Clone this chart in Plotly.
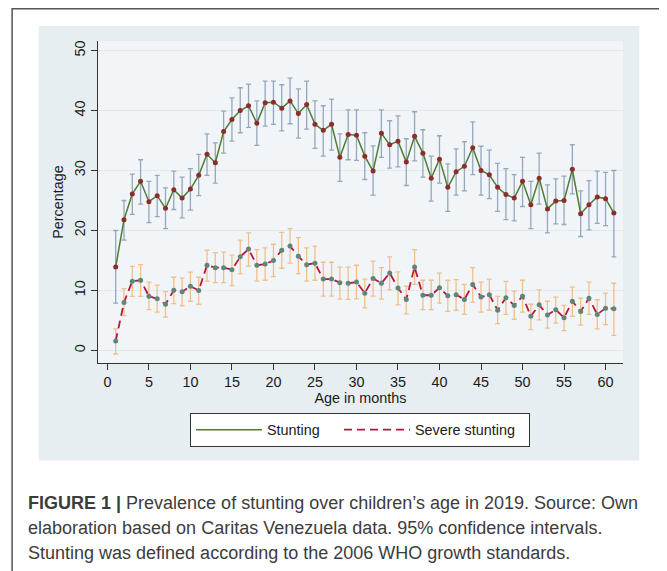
import plotly.graph_objects as go

ages = list(range(1, 62))

stunting = [13.9, 21.8, 26.1, 28.2, 24.8, 25.8, 23.7, 26.8, 25.4, 26.9,
            29.2, 32.7, 31.3, 36.5, 38.5, 40.0, 40.8, 37.9, 41.3, 41.4,
            40.4, 41.6, 39.5, 41.0, 37.7, 36.7, 37.7, 32.2, 36.0, 35.9,
            32.4, 29.9, 36.2, 34.3, 34.9, 31.4, 35.7, 32.9, 28.7, 31.9,
            27.2, 29.8, 30.7, 33.8, 30.0, 29.3, 27.2, 26.0, 25.4, 28.2,
            24.3, 28.7, 23.6, 24.9, 25.0, 30.2, 22.8, 24.3, 25.6, 25.3, 22.9]
stunting_lo = [7.9, 18.4, 22.7, 24.4, 21.3, 22.3, 20.3, 23.5, 22.1, 23.4,
               25.8, 29.2, 27.9, 32.9, 34.9, 36.3, 37.2, 34.2, 37.4, 37.7,
               36.6, 37.8, 35.4, 36.9, 33.7, 32.4, 33.4, 28.2, 31.8, 31.7,
               28.5, 25.9, 32.2, 30.4, 30.6, 27.5, 31.6, 28.9, 24.9, 27.9,
               23.2, 25.9, 26.6, 29.3, 25.9, 25.3, 23.2, 21.8, 21.6, 24.0,
               20.3, 24.4, 19.6, 21.1, 21.0, 26.1, 19.0, 20.1, 21.2, 20.8, 15.6]
stunting_hi = [20.0, 25.0, 29.4, 31.8, 28.2, 29.2, 27.1, 29.9, 28.9, 30.3,
               32.7, 36.1, 34.6, 39.9, 42.1, 43.8, 44.4, 41.6, 44.9, 44.9,
               44.3, 45.4, 43.6, 44.9, 41.6, 40.8, 41.9, 36.1, 40.1, 40.1,
               36.3, 34.1, 40.1, 38.3, 39.1, 35.3, 39.8, 36.8, 32.4, 35.8,
               31.1, 33.6, 34.8, 38.1, 34.05, 33.4, 31.2, 30.3, 29.3, 32.2,
               28.2, 32.9, 27.6, 28.6, 29.05, 34.3, 26.6, 28.3, 29.9, 29.7, 30.0]

severe = [1.55, 8.0, 11.55, 11.7, 9.05, 8.6, 7.7, 10.05, 9.8, 10.7,
          10.0, 14.2, 13.8, 13.8, 13.45, 15.6, 16.9, 14.2, 14.4, 15.0,
          16.7, 17.4, 15.7, 14.3, 14.55, 11.9, 11.9, 11.3, 11.2, 11.4,
          9.55, 12.0, 11.2, 12.9, 10.4, 8.5, 13.9, 9.2, 9.2, 10.45,
          9.1, 9.3, 8.5, 11.0, 8.9, 9.3, 6.7, 8.8, 7.5, 9.05,
          5.7, 7.6, 5.9, 6.8, 5.45, 8.2, 6.5, 8.7, 6.0, 7.05, 6.95]
severe_lo = [-0.6, 5.8, 9.0, 9.0, 6.8, 6.4, 5.55, 7.8, 7.45, 8.2,
             7.7, 11.55, 11.3, 11.3, 10.8, 12.8, 14.05, 11.55, 11.7, 12.3,
             13.7, 14.55, 12.8, 11.55, 11.7, 9.05, 9.05, 8.55, 8.5, 8.6,
             7.1, 9.05, 8.55, 10.1, 7.6, 6.1, 11.0, 6.8, 6.8, 7.9,
             6.5, 6.7, 6.0, 8.05, 6.4, 6.7, 4.45, 6.0, 5.2, 6.4,
             3.45, 5.1, 3.7, 4.55, 3.3, 5.7, 4.2, 6.0, 3.6, 4.3, 2.5]
severe_hi = [3.6, 10.3, 14.0, 14.3, 11.4, 10.9, 9.8, 12.2, 12.1, 13.05,
             12.2, 16.7, 16.3, 16.4, 15.9, 18.4, 19.6, 16.8, 17.1, 17.7,
             19.7, 20.3, 18.8, 17.1, 17.4, 14.7, 14.7, 13.9, 13.9, 14.2,
             11.9, 14.9, 13.8, 15.6, 13.1, 10.7, 16.8, 11.7, 11.7, 12.9,
             11.7, 11.8, 11.0, 13.8, 11.4, 11.9, 9.0, 11.5, 9.9, 11.7,
             7.7, 10.1, 8.2, 8.9, 7.5, 10.55, 8.7, 11.4, 8.45, 9.55, 11.2]

x_ticks = list(range(0, 61, 5))
y_ticks = list(range(0, 51, 10))

FONT = "Liberation Sans, Arial, sans-serif"
TXT = "#1a1a1a"

def up(v, hi):
    return [h - a for a, h in zip(v, hi)]

def down(v, lo):
    return [a - l for a, l in zip(v, lo)]

fig = go.Figure()

# confidence interval caps
fig.add_trace(go.Scatter(
    x=ages, y=stunting, mode="markers", showlegend=False, hoverinfo="skip",
    marker=dict(size=1, color="rgba(0,0,0,0)"),
    error_y=dict(type="data", symmetric=False, array=up(stunting, stunting_hi),
                 arrayminus=down(stunting, stunting_lo),
                 color="#93A8BE", thickness=1.3, width=2.5)))
fig.add_trace(go.Scatter(
    x=ages, y=severe, mode="markers", showlegend=False, hoverinfo="skip",
    marker=dict(size=1, color="rgba(0,0,0,0)"),
    error_y=dict(type="data", symmetric=False, array=up(severe, severe_hi),
                 arrayminus=down(severe, severe_lo),
                 color="#F0C08C", thickness=1.3, width=2.5)))

# lines
fig.add_trace(go.Scatter(
    x=ages, y=stunting, mode="lines", name="Stunting",
    line=dict(color="#4F7B33", width=1.5), legendwidth=67))
fig.add_trace(go.Scatter(
    x=ages, y=severe, mode="lines", name="Severe stunting",
    line=dict(color="#B8173C", width=1.8, dash="8px,5px"), legendwidth=109))

# markers
fig.add_trace(go.Scatter(
    x=ages, y=stunting, mode="markers", showlegend=False,
    marker=dict(size=5, color="#8E2B2B")))
fig.add_trace(go.Scatter(
    x=ages, y=severe, mode="markers", showlegend=False,
    marker=dict(size=5, color="#5E867C")))

# page body has an 8px margin: work in reference pixels and shift
OFF = 8
L, R, T, B = 98.3 - OFF, 622.7 - OFF, 41.0 - OFF, 362.7 - OFF
W, H = 667 - OFF, 571 - OFF
pw, ph = R - L, B - T

def px(xp):
    return (xp - OFF - L) / pw

def py(yp):
    return (B - (yp - OFF)) / ph

shapes = [
    # outer frame
    dict(type="rect", xref="paper", yref="paper", x0=px(12.5), x1=px(665.5),
         y0=py(600), y1=py(8.7), line=dict(color="#555555", width=1.5),
         fillcolor="white", layer="below"),
    # graph region
    dict(type="rect", xref="paper", yref="paper", x0=px(39), x1=px(639),
         y0=py(460), y1=py(26), line=dict(width=0), fillcolor="#E7EEF1",
         layer="below"),
    # plot region
    dict(type="rect", xref="paper", yref="paper", x0=0, x1=1, y0=0, y1=1,
         line=dict(width=0), fillcolor="#F1F5F7", layer="below"),
]

cap_font = dict(family="Liberation Sans, Arial, sans-serif", size=18, color="#3c3c3c")
annotations = [
    dict(text="<b>FIGURE 1 |</b> Prevalence of stunting over children’s age in 2019. Source: Own",
         xref="paper", yref="paper", x=px(26), y=py(503), xanchor="left", yanchor="middle",
         showarrow=False, font=cap_font),
    dict(text="elaboration based on Caritas Venezuela data. 95% confidence intervals.",
         xref="paper", yref="paper", x=px(26), y=py(528), xanchor="left", yanchor="middle",
         showarrow=False, font=cap_font),
    dict(text="Stunting was defined according to the 2006 WHO growth standards.",
         xref="paper", yref="paper", x=px(26), y=py(553), xanchor="left", yanchor="middle",
         showarrow=False, font=cap_font),
]

fig.update_layout(
    width=W, height=H,
    margin=dict(l=L, r=W - R, t=T, b=H - B, pad=0),
    paper_bgcolor="white", plot_bgcolor="#F1F5F7",
    font=dict(family=FONT, size=14.4, color=TXT),
    shapes=shapes, annotations=annotations,
    showlegend=True,
    legend=dict(orientation="h", x=px(360), xanchor="center", y=py(412.5), yanchor="top",
                bgcolor="white", bordercolor="#333333", borderwidth=1,
                itemwidth=66, font=dict(family=FONT, size=14.4, color=TXT),
                tracegroupgap=0),
    xaxis=dict(range=[-1.13, 62.1], tickvals=x_ticks, ticks="outside", ticklen=6,
               tickcolor="#333333", showline=True, linecolor="#333333", linewidth=1,
               showgrid=False, zeroline=False,
               title=dict(text="Age in months", font=dict(size=14.4), standoff=1),
               tickfont=dict(size=14.4)),
    yaxis=dict(range=[-2.1, 51.6], tickvals=y_ticks, ticks="outside", ticklen=6,
               tickcolor="#333333", showline=True, linecolor="#333333", linewidth=1,
               showgrid=True, gridcolor="#E2E9EE", gridwidth=1, zeroline=False,
               tickangle=-90,
               title=dict(text="Percentage", font=dict(size=14.4), standoff=5),
               tickfont=dict(size=14.4)),
)

fig.write_html("out.html")
